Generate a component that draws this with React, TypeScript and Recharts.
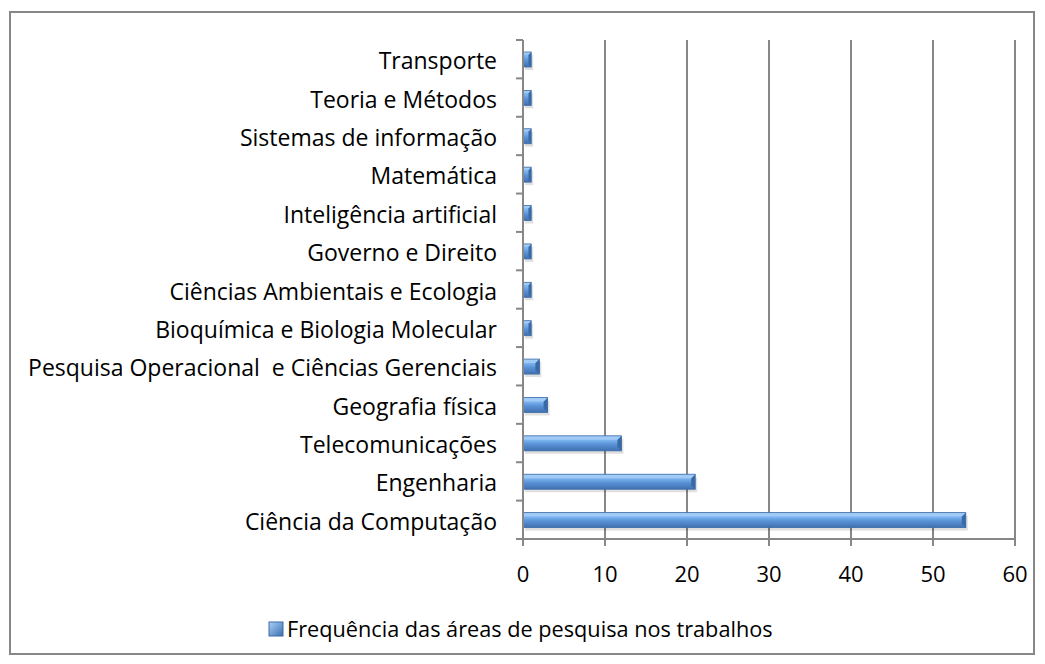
import React from 'react';
import { BarChart, Bar, XAxis, YAxis, CartesianGrid, Legend } from 'recharts';

// categories listed top to bottom as they appear in the chart
const areas = [
  'Transporte',
  'Teoria e Métodos',
  'Sistemas de informação',
  'Matemática',
  'Inteligência artificial',
  'Governo e Direito',
  'Ciências Ambientais e Ecologia',
  'Bioquímica e Biologia Molecular',
  'Pesquisa Operacional  e Ciências Gerenciais',
  'Geografia física',
  'Telecomunicações',
  'Engenharia',
  'Ciência da Computação',
];
const frequencia = [1, 1, 1, 1, 1, 1, 1, 1, 2, 3, 12, 21, 54];
const xTicks = [0, 10, 20, 30, 40, 50, 60];
const seriesName = 'Frequência das áreas de pesquisa nos trabalhos';

const data = areas.map((area, i) => ({ area, value: frequencia[i] }));

const FONT = '"Open Sans", "DejaVu Sans", sans-serif';
const GRAY = '#878787';
const PLOT_TOP = 33;
const PLOT_H = 499;
const BAND = PLOT_H / areas.length;

const BevelBar = (props: any) => {
  const { x, y, width, height } = props;
  if (!width || width <= 0) return null;
  const b = Math.min(4, width / 3);
  return (
    <g>
      <rect x={x + 2} y={y + 3} width={width} height={height} fill="#000" opacity={0.12} />
      <rect x={x} y={y} width={width} height={height} fill="url(#barGrad)" />
      <polygon
        points={`${x + width - b},${y + b} ${x + width},${y} ${x + width},${y + height} ${x + width - b},${y + height - b}`}
        fill="#3a6aa6"
      />
      <polygon
        points={`${x},${y} ${x + width},${y} ${x + width - b},${y + b} ${x},${y + b}`}
        fill="#a8d0f8"
        opacity={0.8}
      />
      <rect x={x} y={y} width={width} height={height} fill="none" stroke="#3d6ba5" strokeWidth={0.8} />
    </g>
  );
};

const CategoryTick = (props: any) => {
  const { x, y, payload, index } = props;
  const axisX = x + 8;
  return (
    <g>
      <line x1={axisX - 7} x2={axisX} y1={y - BAND / 2} y2={y - BAND / 2} stroke={GRAY} strokeWidth={2} />
      {index === areas.length - 1 && (
        <line x1={axisX - 7} x2={axisX} y1={y + BAND / 2} y2={y + BAND / 2} stroke={GRAY} strokeWidth={2} />
      )}
      <text
        x={axisX - 26}
        y={y + 1}
        textAnchor="end"
        dominantBaseline="central"
        fontSize={23}
        fill="#000"
        fontFamily={FONT}
        style={{ whiteSpace: 'pre' }}
      >
        {payload.value}
      </text>
    </g>
  );
};

const ValueTick = (props: any) => {
  const { x, y, payload } = props;
  return (
    <text x={x} y={y + 27} textAnchor="middle" dominantBaseline="central" fontSize={22} fill="#000" fontFamily={FONT}>
      {payload.value}
    </text>
  );
};

const LegendContent = () => (
  <div
    style={{
      height: 76,
      display: 'flex',
      alignItems: 'flex-end',
      justifyContent: 'flex-start',
      paddingLeft: 260,
      paddingBottom: 13,
      boxSizing: 'border-box',
    }}
  >
    <svg width={17} height={17} style={{ marginRight: 2, marginBottom: 4 }}>
      <rect x={1} y={1} width={14} height={14} fill="url(#legendGrad)" stroke="#3d6ba5" strokeWidth={1} />
    </svg>
    <span style={{ fontSize: 21.7, fontFamily: FONT, color: '#000', lineHeight: '26px' }}>{seriesName}</span>
  </div>
);

export default function App() {
  return (
    <div
      style={{
        position: 'relative',
        width: 1026,
        height: 644,
        marginLeft: 1,
        marginTop: 3,
        border: `2px solid ${GRAY}`,
        boxSizing: 'border-box',
        background: '#fff',
      }}
    >
      <svg width={0} height={0} style={{ position: 'absolute' }}>
        <defs>
          <linearGradient id="legendGrad" x1="0" y1="0" x2="1" y2="1">
            <stop offset="0%" stopColor="#a9d1fa" />
            <stop offset="100%" stopColor="#3c6eae" />
          </linearGradient>
        </defs>
      </svg>
      <div style={{ position: 'absolute', left: -3, top: -6 }}>
        <BarChart
          width={1029}
          height={648}
          data={data}
          layout="vertical"
          margin={{ top: PLOT_TOP, right: 22, bottom: 0, left: 0 }}
        >
          <defs>
            <linearGradient id="barGrad" x1="0" y1="0" x2="0" y2="1">
              <stop offset="0%" stopColor="#8fc0f2" />
              <stop offset="30%" stopColor="#7ab3ee" />
              <stop offset="55%" stopColor="#5b93d8" />
              <stop offset="100%" stopColor="#3f70b0" />
            </linearGradient>
          </defs>
          <CartesianGrid horizontal={false} stroke={GRAY} strokeWidth={2} />
          <XAxis
            type="number"
            domain={[0, 60]}
            ticks={xTicks}
            interval={0}
            height={40}
            axisLine={{ stroke: GRAY, strokeWidth: 2 }}
            tickLine={{ stroke: GRAY, strokeWidth: 2 }}
            tickSize={7}
            tickMargin={0}
            tick={<ValueTick />}
          />
          <YAxis
            type="category"
            dataKey="area"
            width={515}
            interval={0}
            axisLine={{ stroke: GRAY, strokeWidth: 2 }}
            tickLine={false}
            tick={<CategoryTick />}
          />
          <Legend verticalAlign="bottom" height={76} content={<LegendContent />} />
          <Bar dataKey="value" name={seriesName} barSize={15} shape={<BevelBar />} isAnimationActive={false} />
        </BarChart>
      </div>
    </div>
  );
}
